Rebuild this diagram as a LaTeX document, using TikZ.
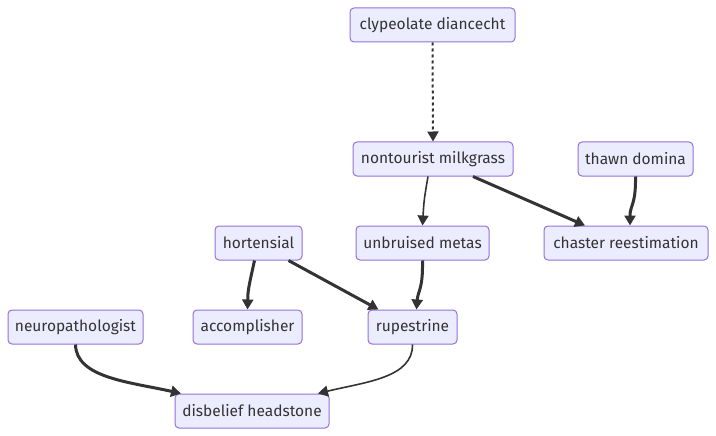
\documentclass[tikz,border=0pt]{standalone}
\usepackage{fontspec}
\setmainfont{Fira Sans}
\usetikzlibrary{arrows.meta}
\definecolor{nodefill}{HTML}{ECECFF}
\definecolor{nodeborder}{HTML}{9370DB}
\definecolor{edgecol}{HTML}{333333}
\definecolor{txtcol}{HTML}{333333}
\tikzset{
  box/.style={draw=nodeborder, fill=nodefill, line width=1pt, rounded corners=4pt,
    minimum height=34pt, inner sep=0pt, text=txtcol, font=\fontsize{15.5}{18}\selectfont},
  thickedge/.style={draw=edgecol, line width=3pt, -{Triangle[length=10pt,width=11pt]}},
  thinedge/.style={draw=edgecol, line width=1.6pt, -{Triangle[length=10pt,width=11pt]}},
  dotedge/.style={draw=edgecol, line width=2pt, dash pattern=on 3pt off 3pt, -{Triangle[length=10pt,width=11pt]}},
}
\begin{document}
\begin{tikzpicture}[x=1pt,y=-1pt]
\useasboundingbox (0,0) rectangle (716,436);
\node[box, minimum width=165pt] (cd) at (432.5,25) {clypeolate diancecht};
\node[box, minimum width=160pt] (nm) at (433,159) {nontourist milkgrass};
\node[box, minimum width=115pt] (td) at (635.5,159) {thawn domina};
\node[box, minimum width=87pt] (ho) at (258.5,243) {hortensial};
\node[box, minimum width=133pt] (um) at (422.5,243) {unbruised metas};
\node[box, minimum width=164pt] (cr) at (626,243) {chaster reestimation};
\node[box, minimum width=135pt] (np) at (75.5,327) {neuropathologist};
\node[box, minimum width=109pt] (ac) at (247.5,327) {accomplisher};
\node[box, minimum width=89pt] (ru) at (412.5,327) {rupestrine};
\node[box, minimum width=154pt] (dh) at (252,411) {disbelief headstone};

\draw[dotedge] (cd.south) -- (nm.north);
\draw[thinedge] (nm.south) ++(-5,0) .. controls (424,200) .. (um.north);
\draw[thickedge] (nm.south) ++(40,0) -- ([xshift=-41pt]cr.north);
\draw[thickedge] (td.south) .. controls (636,205) and (630,205) .. ([xshift=4pt]cr.north);
\draw[thickedge] (ho.south) ++(-4,0) .. controls (248,290) .. (ac.north);
\draw[thickedge] (ho.south) ++(30,0) -- ([xshift=-34pt]ru.north);
\draw[thickedge] (um.south) .. controls (423,290) and (418,290) .. ([xshift=4pt]ru.north);
\draw[thickedge] (np.south) .. controls (76,378) and (130,382) .. ([xshift=-71pt]dh.north);
\draw[thinedge] (ru.south) .. controls (413,378) and (365,382) .. ([xshift=66pt]dh.north);
\end{tikzpicture}
\end{document}
